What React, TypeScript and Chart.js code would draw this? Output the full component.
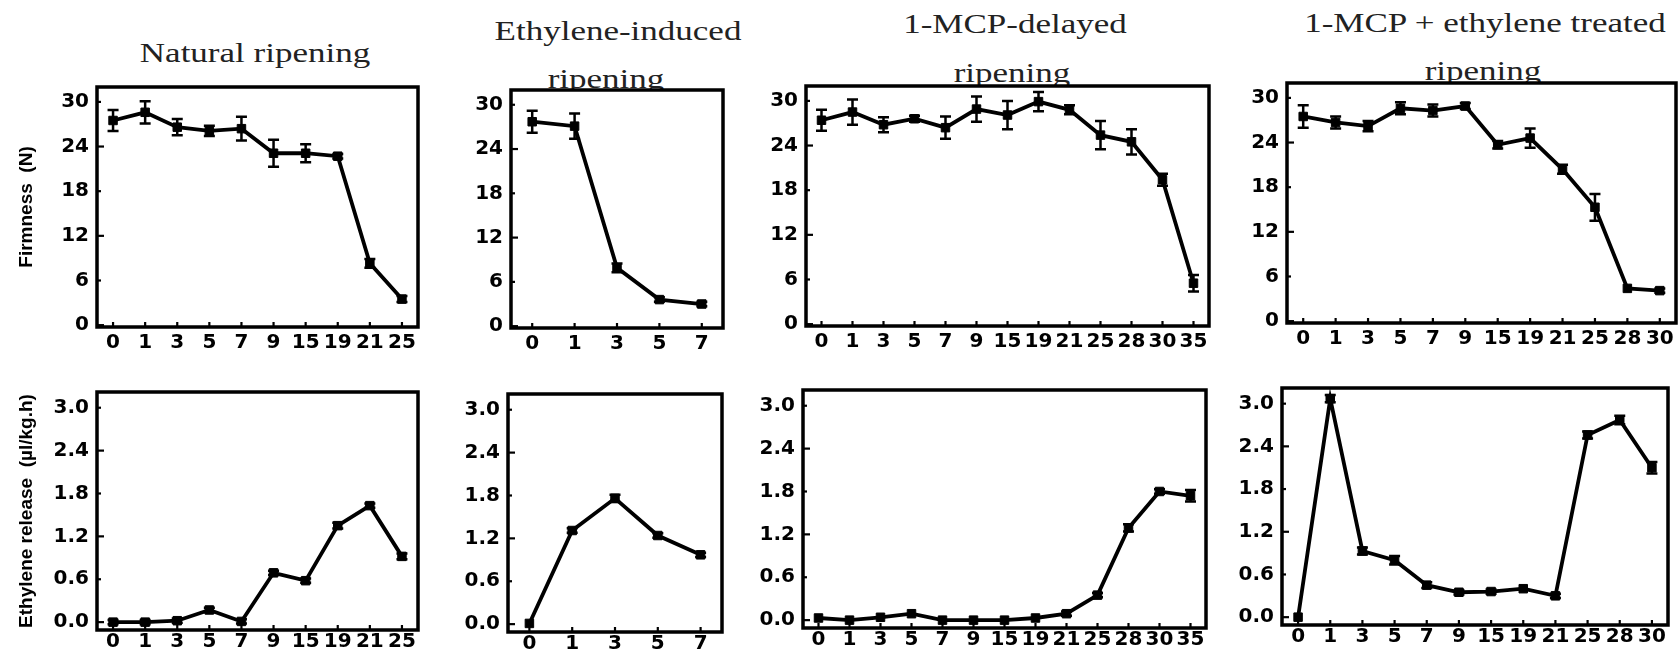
import React, { useEffect, useRef } from 'react';
import { Chart, registerables } from 'chart.js';

Chart.register(...registerables);

// ---------- categories (days) ----------
const natDays = ['0', '1', '3', '5', '7', '9', '15', '19', '21', '25'];
const ethDays = ['0', '1', '3', '5', '7'];
const mcpDays = ['0', '1', '3', '5', '7', '9', '15', '19', '21', '25', '28', '30', '35'];
const mcpEthDays = ['0', '1', '3', '5', '7', '9', '15', '19', '21', '25', '28', '30'];

// ---------- firmness (N) ----------
const natFirm = [27.5, 28.6, 26.6, 26.1, 26.4, 23.1, 23.1, 22.7, 8.3, 3.5];
const natFirmErr = [1.4, 1.5, 1.1, 0.7, 1.6, 1.8, 1.2, 0.3, 0.6, 0.4];
const ethFirm = [27.7, 27.1, 7.9, 3.6, 3.0];
const ethFirmErr = [1.5, 1.7, 0.6, 0.3, 0.3];
const mcpFirm = [27.4, 28.5, 26.8, 27.6, 26.4, 28.9, 28.1, 29.9, 28.8, 25.4, 24.5, 19.4, 5.5];
const mcpFirmErr = [1.4, 1.7, 1.0, 0.4, 1.5, 1.7, 1.9, 1.3, 0.6, 1.9, 1.7, 0.8, 1.1];
const mcpEthFirm = [27.5, 26.7, 26.2, 28.6, 28.3, 28.9, 23.7, 24.6, 20.4, 15.3, 4.4, 4.1];
const mcpEthFirmErr = [1.5, 0.8, 0.7, 0.8, 0.8, 0.4, 0.5, 1.3, 0.6, 1.8, 0.2, 0.3];

// ---------- ethylene release (µl/kg.h) ----------
const natEth = [0.0, 0.0, 0.02, 0.17, 0.01, 0.69, 0.58, 1.35, 1.63, 0.92];
const natEthErr = [0.03, 0.03, 0.03, 0.03, 0.03, 0.03, 0.03, 0.04, 0.03, 0.04];
const ethEth = [0.01, 1.31, 1.76, 1.24, 0.97];
const ethEthErr = [0.02, 0.03, 0.05, 0.03, 0.03];
const mcpEth = [0.03, 0.0, 0.04, 0.09, 0.0, 0.0, 0.0, 0.03, 0.09, 0.35, 1.29, 1.8, 1.74];
const mcpEthErr = [0.02, 0.02, 0.02, 0.02, 0.02, 0.02, 0.02, 0.02, 0.03, 0.03, 0.05, 0.03, 0.08];
const mcpEthEth = [0.0, 3.07, 0.93, 0.8, 0.45, 0.35, 0.36, 0.4, 0.3, 2.56, 2.77, 2.1];
const mcpEthEthErr = [0.02, 0.05, 0.05, 0.06, 0.04, 0.03, 0.03, 0.02, 0.03, 0.05, 0.06, 0.08];

// ---------- y ticks ----------
const firmTicks = [0, 3, 6, 9, 12, 15, 18, 21, 24, 27, 30];
const firmTickLabels = ['0', '', '6', '', '12', '', '18', '', '24', '', '30'];
const ethTicks = [0, 0.3, 0.6, 0.9, 1.2, 1.5, 1.8, 2.1, 2.4, 2.7, 3.0];
const ethTickLabels = ['0.0', '', '0.6', '', '1.2', '', '1.8', '', '2.4', '', '3.0'];

const firmRange = [-0.25, 32];
const ethRange = [-0.11, 3.22];

const firmTitle = 'Firmness  (N)';
const ethTitle = 'Ethylene release  (µl/kg.h)';

// ---------- plugins ----------
const framePlugin = {
  id: 'frame',
  beforeDraw(chart: any) {
    const { ctx, chartArea: a } = chart;
    ctx.save();
    ctx.fillStyle = '#ffffff';
    ctx.fillRect(a.left, a.top, a.right - a.left, a.bottom - a.top);
    ctx.restore();
  },
  afterDraw(chart: any) {
    const { ctx, chartArea: a, scales } = chart;
    const x = scales.x;
    const y = scales.y;
    ctx.save();
    ctx.strokeStyle = '#000';
    ctx.lineWidth = 2.2;
    y.ticks.forEach((t: any, i: number) => {
      const py = y.getPixelForValue(t.value);
      const len = i % 2 === 0 ? 7 : 4;
      ctx.beginPath();
      ctx.moveTo(a.left, py);
      ctx.lineTo(a.left + len, py);
      ctx.stroke();
    });
    x.ticks.forEach((_t: any, i: number) => {
      const px = x.getPixelForTick(i);
      ctx.beginPath();
      ctx.moveTo(px, a.bottom);
      ctx.lineTo(px, a.bottom - 5);
      ctx.stroke();
    });
    ctx.lineWidth = 3.5;
    ctx.strokeRect(a.left, a.top, a.right - a.left, a.bottom - a.top);
    ctx.restore();
  },
};

const errorBarPlugin = {
  id: 'errorBars',
  afterDatasetsDraw(chart: any, _args: any, opts: any) {
    const errs: number[] = opts.errors || [];
    const { ctx, scales } = chart;
    const x = scales.x;
    const y = scales.y;
    const data = chart.data.datasets[0].data as number[];
    ctx.save();
    ctx.strokeStyle = '#000';
    ctx.lineWidth = 2.5;
    data.forEach((v, i) => {
      const e = errs[i] || 0;
      const px = x.getPixelForValue(i);
      const top = y.getPixelForValue(v + e);
      const bot = y.getPixelForValue(v - e);
      if (bot - top < 3) return;
      ctx.beginPath();
      ctx.moveTo(px, top);
      ctx.lineTo(px, bot);
      ctx.moveTo(px - 5.5, top);
      ctx.lineTo(px + 5.5, top);
      ctx.moveTo(px - 5.5, bot);
      ctx.lineTo(px + 5.5, bot);
      ctx.stroke();
    });
    ctx.restore();
  },
};

type Box = { L: number; T: number; R: number; B: number };

type PanelCfg = {
  box: Box;
  days: string[];
  values: number[];
  errors: number[];
  ticks: number[];
  tickLabels: string[];
  range: number[];
  yTitle?: string;
  xPad: number;
  xH: number;
};

function Panel({ cfg }: { cfg: PanelCfg }) {
  const ref = useRef<HTMLCanvasElement>(null);
  const yW = cfg.yTitle ? cfg.box.L : 60;
  const padT = 25;
  const padR = 15;
  const boxW = cfg.box.R - cfg.box.L;
  const boxH = cfg.box.B - cfg.box.T;
  const w = yW + boxW + padR;
  const h = padT + boxH + cfg.xH;
  const left = cfg.box.L - yW;
  const top = cfg.box.T - padT;

  useEffect(() => {
    const tickFont = { family: '"DejaVu Sans", sans-serif', weight: 'bold' as const, size: 20 };
    const chart = new Chart(ref.current!, {
      type: 'line',
      data: {
        labels: cfg.days,
        datasets: [
          {
            data: cfg.values,
            borderColor: '#000',
            borderWidth: 3.8,
            pointStyle: 'rect',
            pointRadius: 6,
            pointBackgroundColor: '#000',
            pointBorderColor: '#000',
            pointBorderWidth: 1,
            tension: 0,
          },
        ],
      },
      options: {
        responsive: false,
        animation: false,
        layout: { padding: { left: 0, top: padT, right: padR, bottom: 0 } },
        plugins: {
          legend: { display: false },
          tooltip: { enabled: false },
          errorBars: { errors: cfg.errors },
        } as any,
        scales: {
          x: {
            type: 'category',
            offset: true,
            grid: { display: false, drawTicks: false },
            border: { display: false },
            ticks: {
              autoSkip: false,
              maxRotation: 0,
              minRotation: 0,
              color: '#000',
              font: tickFont,
              padding: cfg.xPad,
            },
            afterFit(scale: any) {
              scale.height = cfg.xH;
            },
          },
          y: {
            type: 'linear',
            min: cfg.range[0],
            max: cfg.range[1],
            grid: { display: false, drawTicks: false },
            border: { display: false },
            afterBuildTicks(scale: any) {
              scale.ticks = cfg.ticks.map((v) => ({ value: v }));
            },
            ticks: {
              color: '#000',
              font: tickFont,
              padding: 8,
              callback: (_v: any, i: number) => cfg.tickLabels[i],
            },
            title: {
              display: !!cfg.yTitle,
              text: cfg.yTitle || '',
              color: '#000',
              font: { family: '"Liberation Sans", Arial, sans-serif', weight: 'bold', size: 19 },
              padding: { top: 15, bottom: 0 },
            },
            afterFit(scale: any) {
              scale.width = yW;
            },
          },
        },
      },
      plugins: [framePlugin, errorBarPlugin],
    });
    return () => chart.destroy();
  }, []);

  return (
    <canvas
      ref={ref}
      width={w}
      height={h}
      style={{ position: 'absolute', left: left + 'px', top: top + 'px', width: w + 'px', height: h + 'px' }}
    />
  );
}

const panels: PanelCfg[] = [
  { box: { L: 97, T: 87, R: 418, B: 327 }, days: natDays, values: natFirm, errors: natFirmErr, ticks: firmTicks, tickLabels: firmTickLabels, range: firmRange, yTitle: firmTitle, xPad: 4, xH: 32 },
  { box: { L: 511, T: 90, R: 723, B: 328 }, days: ethDays, values: ethFirm, errors: ethFirmErr, ticks: firmTicks, tickLabels: firmTickLabels, range: firmRange, xPad: 4, xH: 32 },
  { box: { L: 806, T: 86, R: 1209, B: 326 }, days: mcpDays, values: mcpFirm, errors: mcpFirmErr, ticks: firmTicks, tickLabels: firmTickLabels, range: firmRange, xPad: 4, xH: 32 },
  { box: { L: 1287, T: 83, R: 1676, B: 323 }, days: mcpEthDays, values: mcpEthFirm, errors: mcpEthFirmErr, ticks: firmTicks, tickLabels: firmTickLabels, range: firmRange, xPad: 4, xH: 32 },
  { box: { L: 97, T: 392, R: 418, B: 630 }, days: natDays, values: natEth, errors: natEthErr, ticks: ethTicks, tickLabels: ethTickLabels, range: ethRange, yTitle: ethTitle, xPad: 0, xH: 28 },
  { box: { L: 508, T: 394, R: 722, B: 632 }, days: ethDays, values: ethEth, errors: ethEthErr, ticks: ethTicks, tickLabels: ethTickLabels, range: ethRange, xPad: 0, xH: 28 },
  { box: { L: 803, T: 390, R: 1206, B: 628 }, days: mcpDays, values: mcpEth, errors: mcpEthErr, ticks: ethTicks, tickLabels: ethTickLabels, range: ethRange, xPad: 0, xH: 28 },
  { box: { L: 1282, T: 388, R: 1668, B: 625 }, days: mcpEthDays, values: mcpEthEth, errors: mcpEthEthErr, ticks: ethTicks, tickLabels: ethTickLabels, range: ethRange, xPad: 0, xH: 28 },
];

// title lines: text, centre x, baseline y
const titleLines: [string, number, number][] = [
  ['Natural ripening', 255, 62],
  ['Ethylene-induced', 618, 40],
  ['ripening', 606, 88],
  ['1-MCP-delayed', 1015, 33],
  ['ripening', 1012, 82],
  ['1-MCP + ethylene treated', 1485, 32],
  ['ripening', 1483, 80],
];

export default function App() {
  return (
    <div
      style={{
        position: 'absolute',
        left: 0,
        top: 0,
        width: '1679px',
        height: '656px',
        overflow: 'hidden',
        background: '#fff',
      }}
    >
      {titleLines.map(([text, cx, base], i) => (
        <div
          key={i}
          style={{
            position: 'absolute',
            left: cx - 250 + 'px',
            top: base - 23 + 'px',
            width: '500px',
            textAlign: 'center',
            fontFamily: '"Liberation Serif", "Times New Roman", serif',
            fontSize: '28px',
            lineHeight: '28px',
            color: '#222',
            whiteSpace: 'nowrap',
            transform: 'scaleX(1.25)',
            transformOrigin: 'center',
          }}
        >
          {text}
        </div>
      ))}
      {panels.map((p, i) => (
        <Panel key={i} cfg={p} />
      ))}
    </div>
  );
}
